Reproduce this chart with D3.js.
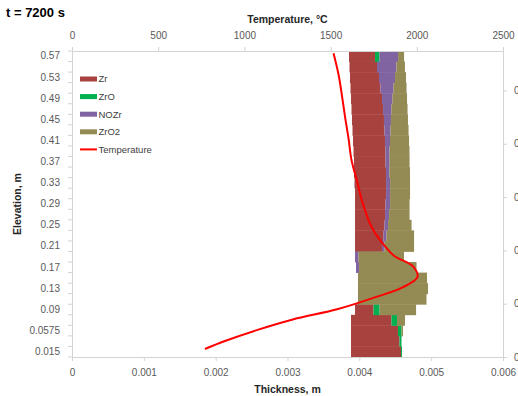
<!DOCTYPE html>
<html>
<head>
<meta charset="utf-8">
<script src="https://cdnjs.cloudflare.com/ajax/libs/d3/7.8.5/d3.min.js"></script>
<style>
  html, body { margin: 0; padding: 0; background: #fff; }
  svg { display: block; font-family: 'Liberation Sans', Arial, sans-serif; }
</style>
</head>
<body>
<div id="chart"></div>
<script>
// elevation categories, top to bottom (m)
let elevations = ['0.57', '0.55', '0.53', '0.51', '0.49', '0.47', '0.45', '0.43', '0.41', '0.39',
  '0.37', '0.35', '0.33', '0.31', '0.29', '0.27', '0.25', '0.23', '0.21', '0.19',
  '0.17', '0.15', '0.13', '0.11', '0.09', '0.075', '0.0575', '0.035', '0.015'];

// layer thicknesses (m); offset is the invisible base series
let offsetVals = [0.003856, 0.003863, 0.003870, 0.003877, 0.003884, 0.003891, 0.003898, 0.003905, 0.003912, 0.003919,
  0.003926, 0.003926, 0.003933, 0.003940, 0.003940, 0.003940, 0.003940, 0.003940, 0.003940, 0.003940,
  0.003954, 0.003981, 0.003981, 0.003981, 0.003940, 0.003884, 0.003884, 0.003884, 0.003884];
let zrVals = [0.000362, 0.000383, 0.000404, 0.000418, 0.000432, 0.000439, 0.000445, 0.000445, 0.000445, 0.000445,
  0.000439, 0.000445, 0.000439, 0.000432, 0.000425, 0.000418, 0.000411, 0.000397, 0.000376, 0,
  0, 0, 0, 0, 0.000258, 0.000564, 0.000654, 0.000675, 0.000696];
let zroVals = [0.000063, 0, 0, 0, 0, 0, 0, 0, 0, 0,
  0, 0, 0, 0, 0, 0, 0, 0, 0, 0,
  0, 0, 0, 0, 0.000084, 0.000077, 0.000049, 0.000028, 0.000014];
let nozrVals = [0.000258, 0.000271, 0.000223, 0.000181, 0.000146, 0.000118, 0.000097, 0.000084, 0.000070, 0.000056,
  0.000056, 0.000049, 0.000056, 0.000056, 0.000063, 0.000056, 0.000049, 0.000042, 0.000035, 0.000049,
  0.000042, 0, 0, 0, 0, 0, 0, 0, 0];
let zro2Vals = [0.000084, 0.000118, 0.000153, 0.000181, 0.000202, 0.000223, 0.000237, 0.000251, 0.000265, 0.000278,
  0.000278, 0.000285, 0.000278, 0.000278, 0.000271, 0.000285, 0.000327, 0.000383, 0.000411, 0.000633,
  0.000800, 0.000961, 0.000975, 0.000954, 0.000508, 0.000111, 0.000021, 0, 0];

// temperature profile (elevation m, temperature C)
let tempElev = [0.57, 0.53, 0.49, 0.45, 0.41, 0.37, 0.33, 0.29, 0.25, 0.23, 0.21,
  0.19, 0.17, 0.15, 0.13, 0.11, 0.09, 0.07, 0.05, 0.03, 0.015];
let tempVals = [1517, 1546, 1566, 1584, 1604, 1621, 1653, 1685, 1729, 1763, 1810,
  1868, 1978, 2004, 1914, 1740, 1543, 1276, 1067, 887, 771];

let thicknessTicks = [0, 0.001, 0.002, 0.003, 0.004, 0.005, 0.006];
let temperatureTicks = [0, 500, 1000, 1500, 2000, 2500];
let elevationTicks = [0, 0.1, 0.2, 0.3, 0.4, 0.5];

let seriesKeys = ['offset', 'Zr', 'ZrO', 'NOZr', 'ZrO2'];
let seriesColors = { Zr: '#a8423f', ZrO: '#00b050', NOZr: '#8064a2', ZrO2: '#948a54' };
let legendLabels = ['Zr', 'ZrO', 'NOZr', 'ZrO2', 'Temperature'];

///////////////////////////
// setup
///////////////////////////
let w = 518;
let h = 396;
let margin = { top: 51, right: 15, bottom: 39, left: 72 };
let axisColor = '#d3d3d3';
let tickTextColor = '#595959';

let svg = d3.select('#chart').append('svg').attr('width', w).attr('height', h);

let x = d3.scaleLinear().domain([0, 0.006]).range([margin.left, w - margin.right]);
let xTemp = d3.scaleLinear().domain([0, 2500]).range([margin.left, w - margin.right]);
let y = d3.scaleBand().domain(elevations).range([margin.top, h - margin.bottom]).padding(0);
let yElev = d3.scaleLinear().domain([0, 0.574]).range([h - margin.bottom, margin.top]);

let table = elevations.map((e, i) => ({
  elev: e,
  offset: offsetVals[i],
  Zr: zrVals[i],
  ZrO: zroVals[i],
  NOZr: nozrVals[i],
  ZrO2: zro2Vals[i]
}));
let stacked = d3.stack().keys(seriesKeys)(table);

///////////////////////////
// bars
///////////////////////////
let bg = svg.append('g').attr('class', 'bars');
stacked.filter(s => s.key !== 'offset').forEach(s => {
  bg.append('g')
    .attr('fill', seriesColors[s.key])
    .selectAll('rect')
    .data(s)
    .enter().append('rect')
    .attr('x', d => x(d[0]))
    .attr('y', d => y(d.data.elev))
    .attr('width', d => Math.max(0, x(d[1]) - x(d[0])))
    .attr('height', y.bandwidth() + 0.4);
});

///////////////////////////
// axes
///////////////////////////
let styleAxis = (g, fontSize) => {
  g.select('.domain').attr('stroke', axisColor);
  g.selectAll('.tick line').attr('stroke', axisColor);
  g.selectAll('.tick text').attr('fill', tickTextColor).attr('font-size', fontSize);
};

// bottom thickness axis
svg.append('g')
  .attr('transform', `translate(0, ${h - margin.bottom})`)
  .call(d3.axisBottom(x).tickValues(thicknessTicks).tickSize(4).tickPadding(8).tickSizeOuter(0)
    .tickFormat(d => d === 0 ? '0' : d3.format('.3f')(d)))
  .call(g => styleAxis(g, 10));

// top temperature axis
svg.append('g')
  .attr('transform', `translate(0, ${margin.top})`)
  .call(d3.axisTop(xTemp).tickValues(temperatureTicks).tickSize(4).tickPadding(8).tickSizeOuter(0)
    .tickFormat(d3.format('d')))
  .call(g => styleAxis(g, 10));

// left category axis, labels every other row
svg.append('g')
  .attr('transform', `translate(${margin.left}, 0)`)
  .call(d3.axisLeft(y).tickSize(0).tickPadding(12)
    .tickFormat((d, i) => i % 2 === 0 ? d : ''))
  .call(g => styleAxis(g, 10));

// category boundary ticks
svg.append('g')
  .selectAll('line')
  .data(d3.range(elevations.length + 1))
  .enter().append('line')
  .attr('x1', margin.left - 4)
  .attr('x2', margin.left)
  .attr('y1', i => margin.top + i * y.step())
  .attr('y2', i => margin.top + i * y.step())
  .attr('stroke', axisColor);

// right elevation axis (labels run off the edge, as in the original)
svg.append('g')
  .attr('transform', `translate(${w - margin.right}, 0)`)
  .call(d3.axisRight(yElev).tickValues(elevationTicks).tickSize(4).tickPadding(7).tickSizeOuter(0))
  .call(g => styleAxis(g, 10));

///////////////////////////
// temperature line
///////////////////////////
let tempLine = d3.line()
  .x(d => xTemp(d[1]))
  .y(d => yElev(d[0]))
  .curve(d3.curveCatmullRom.alpha(0.5));

svg.append('path')
  .datum(tempElev.map((e, i) => [e, tempVals[i]]))
  .attr('d', tempLine)
  .attr('fill', 'none')
  .attr('stroke', '#ff0000')
  .attr('stroke-width', 2);

///////////////////////////
// titles
///////////////////////////
svg.append('text')
  .attr('x', 6).attr('y', 17)
  .attr('font-size', 13).attr('font-weight', 'bold').attr('fill', '#000')
  .text('t = 7200 s');

svg.append('text')
  .attr('x', (margin.left + w - margin.right) / 2).attr('y', 23)
  .attr('text-anchor', 'middle')
  .attr('font-size', 10.5).attr('font-weight', 'bold').attr('fill', '#262626')
  .text('Temperature, °C');

svg.append('text')
  .attr('x', (margin.left + w - margin.right) / 2).attr('y', 393)
  .attr('text-anchor', 'middle')
  .attr('font-size', 10.5).attr('font-weight', 'bold').attr('fill', '#262626')
  .text('Thickness, m');

svg.append('text')
  .attr('transform', `translate(21, ${(margin.top + h - margin.bottom) / 2}) rotate(-90)`)
  .attr('text-anchor', 'middle')
  .attr('font-size', 10.5).attr('font-weight', 'bold').attr('fill', '#262626')
  .text('Elevation, m');

///////////////////////////
// legend
///////////////////////////
let lg = svg.append('g').attr('transform', 'translate(80, 79)');
let item = lg.selectAll('g')
  .data(legendLabels)
  .enter().append('g')
  .attr('transform', (d, i) => `translate(0, ${i * 17.6})`);

item.filter(d => d !== 'Temperature').append('rect')
  .attr('x', 0).attr('y', -2.5)
  .attr('width', 17).attr('height', 5)
  .attr('fill', d => seriesColors[d]);

item.filter(d => d === 'Temperature').append('line')
  .attr('x1', 0).attr('x2', 17)
  .attr('stroke', '#ff0000').attr('stroke-width', 2);

item.append('text')
  .attr('x', 18.5).attr('dy', '0.35em')
  .attr('font-size', 9.5).attr('fill', '#404040')
  .text(d => d);
</script>
</body>
</html>
